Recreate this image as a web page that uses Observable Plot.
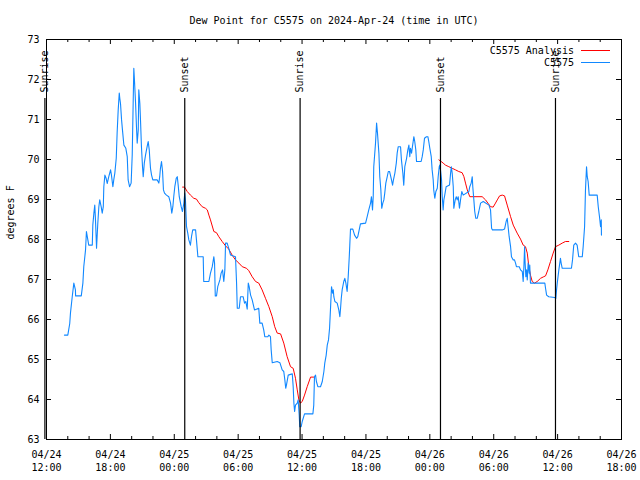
<!DOCTYPE html>
<html><head><meta charset="utf-8">
<script src="https://cdn.jsdelivr.net/npm/d3@7"></script>
<script src="https://cdn.jsdelivr.net/npm/@observablehq/plot@0.6"></script>
<style>
body{margin:0;background:#fff}
#chart{position:relative;width:640px;height:480px}
</style>
</head><body><div id="chart"></div>
<script>
const titleText = "Dew Point for C5575 on 2024-Apr-24 (time in UTC)";
const yLabel = "degrees F";
const obsName = "C5575";
const anaName = "C5575 Analysis";
const obsColor = "#1188ff";
const anaColor = "#ff0000";

// observed dew point (day hh:mm, April 2024 UTC)
const obsTime = [
"24 13:41","24 14:00","24 14:11","24 14:15","24 14:25","24 14:34","24 14:43","24 14:44","24 15:16","24 15:25",
"24 15:30","24 15:40","24 15:45","24 15:53","24 15:58","24 16:18","24 16:21","24 16:27","24 16:32","24 16:36",
"24 16:42","24 16:49","24 16:55","24 17:00","24 17:08","24 17:14","24 17:20","24 17:23","24 17:29","24 17:36",
"24 17:42","24 17:51","24 18:01","24 18:06","24 18:14","24 18:19","24 18:25","24 18:33","24 18:38","24 18:44",
"24 18:50","24 18:53","24 18:57","24 19:03","24 19:08","24 19:16","24 19:27","24 19:35","24 19:40","24 19:48",
"24 19:57","24 20:03","24 20:09","24 20:12","24 20:16","24 20:22","24 20:27","24 20:31","24 20:37","24 20:40",
"24 20:46","24 20:50","24 20:55","24 21:01","24 21:05","24 21:11","24 21:18","24 21:27","24 21:33","24 21:39",
"24 21:42","24 21:46","24 21:52","24 21:59","24 22:24","24 22:33","24 22:38","24 22:42","24 22:48","24 22:54",
"24 22:59","24 23:05","24 23:16","24 23:29","24 23:39","24 23:46","24 23:52","24 23:57","25 00:03","25 00:11",
"25 00:17","25 00:22","25 00:28","25 00:39","25 00:46","25 00:54","25 00:59","25 01:03","25 01:09","25 01:16",
"25 01:22","25 01:31","25 01:37","25 01:44","25 02:00","25 02:05","25 02:13","25 02:43","25 02:46","25 03:15",
"25 03:24","25 03:34","25 03:43","25 03:47","25 03:51","25 03:58","25 04:05","25 04:17","25 04:24","25 04:32",
"25 04:36","25 04:39","25 04:45","25 04:49","25 04:58","25 05:07","25 05:17","25 05:45","25 05:51","25 05:55",
"25 06:06","25 06:13","25 06:28","25 06:36","25 06:43","25 06:51","25 06:57","25 07:02","25 07:10","25 07:19",
"25 07:32","25 07:56","25 08:02","25 08:15","25 08:24","25 08:30","25 08:47","25 08:53","25 09:02","25 09:06",
"25 09:12","25 09:40","25 09:55","25 10:08","25 10:17","25 10:23","25 10:28","25 10:32","25 10:42","25 11:05",
"25 11:10","25 11:14","25 11:18","25 11:23","25 11:33","25 11:38","25 11:44","25 11:47","25 11:55","25 12:01",
"25 12:14","25 13:01","25 13:06","25 13:10","25 13:16","25 13:21","25 13:29","25 13:44","25 13:54","25 14:03",
"25 14:08","25 14:16","25 14:22","25 14:29","25 14:35","25 14:40","25 14:46","25 14:52","25 14:56","25 14:59",
"25 15:05","25 15:18","25 15:27","25 15:33","25 15:37","25 15:41","25 15:46","25 15:55","25 16:01","25 16:07",
"25 16:14","25 16:20","25 16:26","25 16:29","25 16:33","25 16:46","25 16:56","25 17:07","25 17:14","25 17:22",
"25 17:29","25 17:58","25 18:07","25 18:16","25 18:26","25 18:31","25 18:37","25 18:41","25 18:44","25 18:54",
"25 19:00","25 19:05","25 19:13","25 19:18","25 19:24","25 19:29","25 19:35","25 19:41","25 19:46","25 19:52",
"25 20:00","25 20:06","25 20:13","25 20:18","25 20:24","25 20:30","25 20:35","25 20:43","25 20:51","25 20:56",
"25 21:02","25 21:15","25 21:20","25 21:28","25 21:33","25 21:39","25 21:49","25 21:56","25 22:02","25 22:07",
"25 22:11","25 22:17","25 22:22","25 22:30","25 22:35","25 22:41","25 22:45","25 23:11","25 23:17","25 23:23",
"25 23:30","25 23:41","25 23:49","25 23:54","26 00:00","26 00:08","26 00:13","26 00:19","26 00:22","26 00:28",
"26 00:34","26 00:42","26 00:47","26 00:53","26 00:56","26 01:00","26 01:06","26 01:10","26 01:15","26 01:19",
"26 01:24","26 01:32","26 01:51","26 01:57","26 02:01","26 02:06","26 02:12","26 02:15","26 02:23","26 02:29",
"26 02:34","26 02:40","26 02:47","26 02:53","26 03:00","26 03:08","26 03:40","26 03:45","26 03:53","26 03:59",
"26 04:02","26 04:08","26 04:13","26 04:19","26 04:27","26 04:36","26 04:46","26 05:01","26 05:33","26 05:42",
"26 05:48","26 05:53","26 06:48","26 07:01","26 07:10","26 07:16","26 07:22","26 07:27","26 07:35","26 07:40",
"26 07:50","26 07:57","26 08:03","26 08:08","26 08:24","26 08:31","26 08:41","26 08:46","26 08:50","26 08:54",
"26 08:57","26 09:01","26 09:05","26 09:09","26 09:14","26 09:20","26 09:23","26 09:27","26 10:48","26 10:52",
"26 10:58","26 11:10","26 11:44","26 11:50","26 11:54","26 11:58","26 12:07","26 12:16","26 12:20","26 12:26",
"26 13:18","26 13:24","26 13:31","26 13:41","26 13:50","26 13:59","26 14:19","26 14:24","26 14:32","26 14:37",
"26 14:43","26 14:47","26 14:52","26 14:58","26 15:43","26 15:49","26 15:56","26 16:02","26 16:06","26 16:07"
];
const obsDew = [
65.61,65.61,65.90,66.16,66.57,66.91,66.74,66.59,66.59,66.91,
67.32,67.74,68.20,67.99,67.86,67.86,68.36,68.66,68.86,68.49,
67.78,68.40,68.82,68.99,68.82,68.66,68.82,69.32,69.61,69.53,
69.40,69.57,69.74,69.61,69.32,69.49,69.66,70.03,70.66,71.24,
71.66,71.53,71.40,70.99,70.74,70.36,70.28,70.07,69.49,69.32,
69.41,70.11,71.57,72.28,71.95,71.40,70.82,70.41,70.74,71.74,
71.40,70.95,70.32,69.82,69.57,69.91,70.11,70.32,70.45,70.24,
70.03,69.78,69.61,69.49,69.49,69.41,69.57,69.78,69.95,69.70,
69.24,69.16,69.11,69.07,68.91,68.66,68.82,69.07,69.32,69.53,
69.57,69.36,69.07,68.82,68.70,68.91,69.16,68.99,68.32,68.16,
67.99,67.86,68.07,68.24,68.24,67.99,67.57,67.57,66.95,66.95,
67.16,67.32,67.57,67.41,66.59,66.59,66.82,66.99,67.16,67.24,
67.07,66.95,67.24,67.91,67.91,67.78,67.61,67.57,66.91,66.28,
66.28,66.57,66.57,66.41,66.45,66.26,66.91,66.82,66.61,66.49,
66.24,66.28,65.91,65.91,65.74,65.57,65.57,65.61,65.57,65.24,
64.92,64.95,64.92,64.74,64.70,64.49,64.28,64.36,64.61,64.64,
64.32,63.91,63.70,63.86,63.91,63.99,63.61,63.32,63.32,63.45,
63.64,63.64,63.86,64.57,64.61,64.45,64.32,64.32,64.45,64.70,
64.91,65.11,65.36,65.49,65.78,66.24,66.82,66.66,66.74,66.57,
66.45,66.41,66.24,66.07,66.28,66.53,66.74,66.95,67.03,66.91,
66.70,67.07,67.57,67.86,68.26,68.26,68.11,68.03,68.07,68.24,
68.39,68.41,68.57,68.74,68.91,69.07,68.74,69.07,69.82,70.41,
70.91,70.66,70.16,69.57,69.24,68.78,68.91,68.99,69.16,69.41,
69.57,69.70,69.70,69.61,69.49,69.36,69.49,69.66,69.91,70.16,
70.32,70.32,69.99,69.66,69.36,69.82,70.03,70.24,70.36,70.07,
70.28,70.16,70.32,70.57,70.45,70.24,69.95,69.95,70.07,70.24,
70.53,70.57,70.57,70.45,70.28,70.07,69.74,69.49,69.24,69.03,
69.20,69.28,69.57,69.82,69.86,69.74,69.49,69.07,68.74,68.99,
69.11,69.32,69.36,69.66,69.82,69.66,69.32,68.78,68.99,69.07,
68.99,69.07,68.78,68.99,69.20,69.11,69.20,69.32,69.41,69.57,
69.32,68.99,68.70,68.53,68.53,68.70,68.91,68.95,68.86,68.74,
68.28,68.24,68.24,68.26,68.45,68.53,68.28,68.07,67.82,67.57,
67.49,67.49,67.41,67.32,67.32,67.24,67.20,66.95,67.32,67.82,
67.41,67.07,67.24,66.99,67.41,67.16,67.36,66.91,66.91,66.78,
66.61,66.57,66.55,66.53,66.74,66.91,67.24,67.53,67.41,67.28,
67.28,67.49,67.86,67.91,67.86,67.57,67.57,67.82,68.32,69.24,
69.82,69.57,69.45,69.11,69.11,68.82,68.57,68.32,68.49,68.11
];

// analysis dew point
const anaTime = [
"25 00:47","25 00:58","25 01:13","25 01:31","25 01:50","25 02:05","25 02:18","25 02:37","25 02:56","25 03:06",
"25 03:15","25 03:24","25 03:43","25 03:58","25 04:11","25 04:30","25 04:49","25 05:07","25 05:26","25 05:45",
"25 06:04","25 06:23","25 06:47","25 07:00","25 07:19","25 07:38","25 07:56","25 08:15","25 08:34","25 08:53",
"25 09:12","25 09:26","25 09:40","25 09:59","25 10:17","25 10:36","25 10:55","25 11:10","25 11:23","25 11:33",
"25 11:42","25 11:51","25 12:01","25 12:14","25 12:29","25 12:48","25 13:05",
"26 00:51","26 01:04","26 01:15","26 01:28","26 01:47","26 02:06","26 02:25","26 02:43","26 03:02","26 03:12",
"26 03:21","26 03:31","26 03:45","26 04:55","26 05:14","26 05:27","26 05:42","26 05:57","26 06:10","26 06:20",
"26 06:33","26 06:48","26 07:01","26 07:16","26 07:35","26 07:50","26 08:12","26 08:31","26 08:46","26 08:59",
"26 09:09","26 09:18","26 09:27","26 09:37","26 09:50","26 10:05","26 10:24","26 10:42","26 10:52","26 11:05",
"26 11:20","26 11:35","26 11:48","26 12:07","26 12:26","26 12:44","26 13:03"
];
const anaDew = [
69.31,69.31,69.20,69.11,69.03,69.01,68.92,68.82,68.78,68.74,
68.61,68.49,68.20,68.17,68.07,67.95,67.84,67.76,67.61,67.49,
67.41,67.32,67.28,67.22,67.07,66.95,66.91,66.74,66.53,66.32,
66.07,65.82,65.66,65.64,65.41,65.07,64.82,64.78,64.53,64.24,
63.99,63.91,63.95,64.11,64.32,64.56,64.56,
69.99,69.95,69.91,69.86,69.82,69.78,69.74,69.70,69.67,69.57,
69.41,69.24,69.07,69.07,68.99,68.91,68.82,68.81,68.91,68.99,
69.09,69.11,69.09,68.86,68.57,68.36,68.16,68.01,67.86,67.82,
67.66,67.32,67.11,66.95,66.91,66.95,67.03,67.07,67.09,67.24,
67.45,67.66,67.82,67.86,67.91,67.95,67.95
];

const sunTime = ["24 11:51","25 00:59","25 11:49","26 01:00","26 11:48"];
const sunLabel = ["Sunrise","Sunset","Sunrise","Sunset","Sunrise"];

const xTickTime = ["24 12:00","24 18:00","25 00:00","25 06:00","25 12:00","25 18:00","26 00:00","26 06:00","26 12:00","26 18:00"];
const xTickDate = ["04/24","04/24","04/25","04/25","04/25","04/25","04/26","04/26","04/26","04/26"];
const xTickClock = ["12:00","18:00","00:00","06:00","12:00","18:00","00:00","06:00","12:00","18:00"];
const yTicks = [63,64,65,66,67,68,69,70,71,72,73];

const parse = s => new Date(`2024-04-${s.slice(0,2)}T${s.slice(3)}:00Z`);

const obs = obsTime.map((t,i) => ({time: parse(t), dew: obsDew[i]}));
const ana = anaTime.map((t,i) => ({time: parse(t), dew: anaDew[i], run: t.slice(0,2)}));
const sun = sunTime.map((t,i) => ({time: parse(t), label: sunLabel[i]}));
const xt = xTickTime.map((t,i) => ({time: parse(t), date: xTickDate[i], clock: xTickClock[i]}));
const xDomain = [parse(xTickTime[0]), parse(xTickTime[xTickTime.length-1])];
const minorTicks = d3.utcHour.every(2).range(xDomain[0], xDomain[1]).filter(d => d.getUTCHours() % 6 !== 0);

const W = 640, H = 480, mL = 46, mR = 19, mT = 39, mB = 41;
const fw = W - mL - mR, fh = H - mT - mB;
const font = "'DejaVu Sans Mono', 'Liberation Mono', monospace";

const chart = Plot.plot({
  width: W, height: H,
  marginLeft: mL, marginRight: mR, marginTop: mT, marginBottom: mB,
  style: {fontFamily: font, fontSize: "10px", background: "white", color: "black"},
  x: {type: "utc", domain: xDomain, axis: null},
  y: {domain: [yTicks[0], yTicks[yTicks.length-1]], axis: null},
  marks: [
    Plot.frame({stroke: "black"}),
    // major / minor x ticks (bottom & top, inward)
    Plot.tickX(xt, {x: "time", insetTop: fh - 5, stroke: "black"}),
    Plot.tickX(xt, {x: "time", insetBottom: fh - 5, stroke: "black"}),
    Plot.tickX(minorTicks, {x: d => d, insetTop: fh - 3, stroke: "black"}),
    Plot.tickX(minorTicks, {x: d => d, insetBottom: fh - 3, stroke: "black"}),
    // y ticks (left & right, inward)
    Plot.tickY(yTicks, {y: d => d, insetRight: fw - 5, stroke: "black"}),
    Plot.tickY(yTicks, {y: d => d, insetLeft: fw - 5, stroke: "black"}),
    // tick labels
    Plot.text(yTicks, {y: d => d, text: d => String(d), frameAnchor: "left", dx: -7, textAnchor: "end", lineAnchor: "middle", fill: "black"}),
    Plot.text(xt, {x: "time", text: "date", frameAnchor: "bottom", dy: 15, lineAnchor: "middle", fill: "black"}),
    Plot.text(xt, {x: "time", text: "clock", frameAnchor: "bottom", dy: 28, lineAnchor: "middle", fill: "black"}),
    // data
    Plot.line(ana, {x: "time", y: "dew", z: "run", stroke: anaColor, strokeWidth: 1}),
    Plot.line(obs, {x: "time", y: "dew", stroke: obsColor, strokeWidth: 1.1}),
    // sunrise / sunset
    Plot.ruleX(sun, {x: "time", insetTop: 59, stroke: "black", strokeWidth: 1.2}),
    Plot.text(sun, {x: "time", text: "label", rotate: -90, frameAnchor: "top", dy: 53, textAnchor: "start", lineAnchor: "middle", fill: "black"}),
    // titles
    Plot.text([titleText], {text: d => d, frameAnchor: "top", dy: -19, lineAnchor: "middle", fill: "black"}),
    Plot.text([yLabel], {text: d => d, frameAnchor: "left", dx: -36, rotate: -90, lineAnchor: "middle", fill: "black"})
  ]
});
document.getElementById("chart").appendChild(chart);

// legend (top right, inside the frame)
const svg = d3.select(chart);
const legendRows = [{name: anaName, color: anaColor, y: 50}, {name: obsName, color: obsColor, y: 62}];
const lg = svg.append("g").attr("font-family", font).attr("font-size", 10).attr("fill", "black");
lg.selectAll("text").data(legendRows).join("text")
  .attr("x", W - mR - 47).attr("y", d => d.y).attr("dy", "0.35em")
  .attr("text-anchor", "end").text(d => d.name);
lg.selectAll("line").data(legendRows).join("line")
  .attr("x1", W - mR - 40).attr("x2", W - mR - 11)
  .attr("y1", d => d.y + 0.5).attr("y2", d => d.y + 0.5)
  .attr("stroke", d => d.color).attr("stroke-width", 1);
</script>
</body></html>
